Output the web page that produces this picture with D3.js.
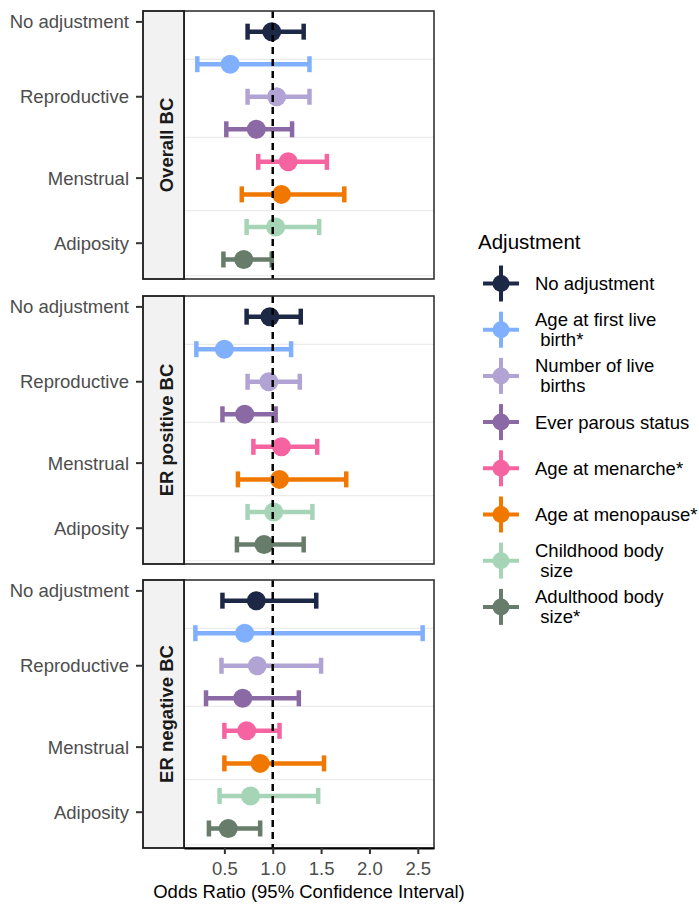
<!DOCTYPE html>
<html>
<head>
<meta charset="utf-8">
<script src="https://cdn.jsdelivr.net/npm/d3@7"></script>
<style>
  body { margin: 0; background: #fff; }
  text { font-family: "Liberation Sans", Arial, sans-serif; }
</style>
</head>
<body>
<div id="vis"></div>
<script>
// Forest plot of odds ratios, faceted by breast cancer subtype

/* *************************** Data ***************************** */

var panels = ['Overall BC', 'ER positive BC', 'ER negative BC'];

var adjustments = ['No adjustment', 'Age at first live birth*', 'Number of live births',
    'Ever parous status', 'Age at menarche*', 'Age at menopause*',
    'Childhood body size', 'Adulthood body size*'];

// legend labels are wrapped like in the original
var legendLabels = [['No adjustment'], ['Age at first live', ' birth*'], ['Number of live', ' births'],
    ['Ever parous status'], ['Age at menarche*'], ['Age at menopause*'],
    ['Childhood body', ' size'], ['Adulthood body', ' size*']];

var colors = ['#1d2846', '#80b0fd', '#b1a4d4', '#8b69a5', '#f564a0', '#f07800', '#a6d4b7', '#677c6b'];

// row each adjustment sits on inside a panel (1 = top)
var rows = [1, 2, 3, 4, 5, 6, 7, 8];

// y axis groups and where their label sits (in row units)
var groups = ['No adjustment', 'Reproductive', 'Menstrual', 'Adiposity'];
var groupPos = [0.7, 3, 5.5, 7.5];

var orOverall = [0.99, 0.56, 1.04, 0.83, 1.16, 1.09, 1.03, 0.70];
var loOverall = [0.74, 0.22, 0.74, 0.52, 0.85, 0.68, 0.73, 0.49];
var hiOverall = [1.32, 1.38, 1.38, 1.20, 1.56, 1.74, 1.48, 0.99];

var orPos = [0.97, 0.50, 0.96, 0.71, 1.09, 1.07, 1.01, 0.91];
var loPos = [0.73, 0.21, 0.74, 0.48, 0.80, 0.64, 0.74, 0.63];
var hiPos = [1.29, 1.19, 1.28, 1.03, 1.46, 1.76, 1.41, 1.32];

var orNeg = [0.83, 0.71, 0.84, 0.69, 0.73, 0.87, 0.77, 0.54];
var loNeg = [0.48, 0.20, 0.47, 0.31, 0.50, 0.50, 0.45, 0.34];
var hiNeg = [1.45, 2.55, 1.50, 1.27, 1.07, 1.53, 1.47, 0.87];

var xTicks = [0.5, 1.0, 1.5, 2.0, 2.5];

/* *************************** Settings ***************************** */

var width = 699;
var height = 906;

var stripLeft = 143;
var plotLeft = 184;
var plotRight = 434;
var panelTops = [11, 296, 580];
var panelHeight = 268;

var fontSize = 18.5;
var grey = '#4d4d4d';

// long-format table built from the arrays above
var series = [[orOverall, loOverall, hiOverall], [orPos, loPos, hiPos], [orNeg, loNeg, hiNeg]];
var allData = [];
series.forEach(function(s, p) {
    adjustments.forEach(function(a, i) {
        allData.push({
            panel: p,
            adjustment: a,
            idx: i,
            row: rows[i],
            or: s[0][i],
            lo: s[1][i],
            hi: s[2][i]
        });
    });
});

/* *************************** Scales ***************************** */

// ggplot style 5% expansion around the confidence intervals
var xMin = d3.min(allData, function(d) { return d.lo; });
var xMax = d3.max(allData, function(d) { return d.hi; });
var pad = (xMax - xMin) * 0.05;

var xScale = d3.scaleLinear()
    .domain([xMin - pad, xMax + pad])
    .range([plotLeft, plotRight]);

var yScale = d3.scaleLinear()
    .domain([0.365, 8.6])
    .range([0, panelHeight]);

var colorScale = d3.scaleOrdinal()
    .domain(adjustments)
    .range(colors);

// separator lines halfway between the group labels
var gridPos = groupPos.map(function(p, i) {
    if (i < groupPos.length - 1) return (p + groupPos[i + 1]) / 2;
    return p + (p - groupPos[i - 1]) / 2;
});

/* *************************** Static elements ***************************** */

var svg = d3.select('#vis')
    .append('svg')
    .attr('width', width)
    .attr('height', height);

panels.forEach(function(name, p) {
    var g = svg.append('g')
        .attr('transform', 'translate(0,' + panelTops[p] + ')');

    // panel background and light separators
    g.append('rect')
        .attr('x', plotLeft)
        .attr('y', 0)
        .attr('width', plotRight - plotLeft)
        .attr('height', panelHeight)
        .attr('fill', '#fff');

    g.selectAll('.grid')
        .data(gridPos)
        .enter().append('line')
        .attr('class', 'grid')
        .attr('x1', plotLeft)
        .attr('x2', plotRight)
        .attr('y1', function(d) { return yScale(d); })
        .attr('y2', function(d) { return yScale(d); })
        .attr('stroke', '#ebebeb')
        .attr('stroke-width', 1.2);

    var pData = allData.filter(function(d) { return d.panel == p; });

    // error bars
    var bars = g.selectAll('.bar')
        .data(pData)
        .enter().append('g')
        .attr('class', 'bar')
        .attr('stroke', function(d) { return colorScale(d.adjustment); })
        .attr('stroke-width', 4.5);

    bars.append('line')
        .attr('x1', function(d) { return xScale(d.lo); })
        .attr('x2', function(d) { return xScale(d.hi); })
        .attr('y1', function(d) { return yScale(d.row); })
        .attr('y2', function(d) { return yScale(d.row); });

    bars.append('line')
        .attr('x1', function(d) { return xScale(d.lo); })
        .attr('x2', function(d) { return xScale(d.lo); })
        .attr('y1', function(d) { return yScale(d.row) - 8; })
        .attr('y2', function(d) { return yScale(d.row) + 8; });

    bars.append('line')
        .attr('x1', function(d) { return xScale(d.hi); })
        .attr('x2', function(d) { return xScale(d.hi); })
        .attr('y1', function(d) { return yScale(d.row) - 8; })
        .attr('y2', function(d) { return yScale(d.row) + 8; });

    // point estimates
    g.selectAll('.pt')
        .data(pData)
        .enter().append('circle')
        .attr('class', 'pt')
        .attr('cx', function(d) { return xScale(d.or); })
        .attr('cy', function(d) { return yScale(d.row); })
        .attr('r', 9.5)
        .attr('fill', function(d) { return colorScale(d.adjustment); });

    // reference line at OR = 1, drawn on top
    g.append('line')
        .attr('x1', xScale(1))
        .attr('x2', xScale(1))
        .attr('y1', 0)
        .attr('y2', panelHeight)
        .attr('stroke', '#000')
        .attr('stroke-width', 2.5)
        .attr('stroke-dasharray', '7,5');

    // panel border
    g.append('rect')
        .attr('x', plotLeft)
        .attr('y', 0)
        .attr('width', plotRight - plotLeft)
        .attr('height', panelHeight)
        .attr('fill', 'none')
        .attr('stroke', '#333')
        .attr('stroke-width', 1.6);

    // facet strip on the left
    g.append('rect')
        .attr('x', stripLeft)
        .attr('y', 0)
        .attr('width', plotLeft - stripLeft)
        .attr('height', panelHeight)
        .attr('fill', '#f2f2f2')
        .attr('stroke', '#1a1a1a')
        .attr('stroke-width', 1.8);

    g.append('text')
        .attr('transform', 'translate(173,' + (panelHeight / 2) + ') rotate(-90)')
        .attr('text-anchor', 'middle')
        .style('font-size', fontSize + 'px')
        .style('font-weight', 'bold')
        .attr('fill', '#1a1a1a')
        .text(name);

    // y axis: group labels with ticks
    var yAxis = g.selectAll('.ytick')
        .data(groups)
        .enter().append('g')
        .attr('class', 'ytick')
        .attr('transform', function(d, i) { return 'translate(0,' + yScale(groupPos[i]) + ')'; });

    yAxis.append('line')
        .attr('x1', 136)
        .attr('x2', stripLeft)
        .attr('stroke', '#333')
        .attr('stroke-width', 2);

    yAxis.append('text')
        .attr('x', 129)
        .attr('y', 6.5)
        .attr('text-anchor', 'end')
        .style('font-size', fontSize + 'px')
        .attr('fill', grey)
        .text(function(d) { return d; });
});

/* *************************** X axis ***************************** */

var axisY = panelTops[2] + panelHeight;

var xAxis = d3.axisBottom(xScale)
    .tickValues(xTicks)
    .tickFormat(d3.format('.1f'))
    .tickSize(6)
    .tickPadding(8)
    .tickSizeOuter(0);

var xAxisG = svg.append('g')
    .attr('transform', 'translate(0,' + axisY + ')')
    .call(xAxis);

xAxisG.select('.domain')
    .attr('stroke', '#000')
    .attr('stroke-width', 2);

xAxisG.selectAll('.tick line')
    .attr('stroke', '#333')
    .attr('stroke-width', 2);

xAxisG.selectAll('.tick text')
    .attr('fill', grey)
    .style('font-size', fontSize + 'px')
    .style('font-family', '"Liberation Sans", Arial, sans-serif');

svg.append('text')
    .attr('x', (plotLeft + plotRight) / 2)
    .attr('y', 898)
    .attr('text-anchor', 'middle')
    .style('font-size', fontSize + 'px')
    .attr('fill', '#000')
    .text('Odds Ratio (95% Confidence Interval)');

/* *************************** Legend ***************************** */

var legend = svg.append('g');

legend.append('text')
    .attr('x', 478)
    .attr('y', 249)
    .style('font-size', '20.5px')
    .attr('fill', '#000')
    .text('Adjustment');

var keyX = 501;
var keyY0 = 283.5;
var keyStep = 46.2;

var keys = legend.selectAll('.key')
    .data(adjustments)
    .enter().append('g')
    .attr('class', 'key')
    .attr('transform', function(d, i) { return 'translate(' + keyX + ',' + (keyY0 + i * keyStep) + ')'; });

keys.append('line')
    .attr('x1', -18).attr('x2', 18)
    .attr('stroke', function(d) { return colorScale(d); })
    .attr('stroke-width', 4);

keys.append('line')
    .attr('y1', -18).attr('y2', 18)
    .attr('stroke', function(d) { return colorScale(d); })
    .attr('stroke-width', 4);

keys.append('circle')
    .attr('r', 8.5)
    .attr('fill', function(d) { return colorScale(d); });

keys.append('text')
    .attr('x', 34)
    .style('font-size', fontSize + 'px')
    .style('white-space', 'pre')
    .attr('fill', '#000')
    .each(function(d, i) {
        var lines = legendLabels[i];
        var t = d3.select(this);
        lines.forEach(function(l, j) {
            t.append('tspan')
                .attr('x', 34)
                .attr('y', 6.5 + (j - (lines.length - 1) / 2) * 20)
                .text(l);
        });
    });
</script>
</body>
</html>
